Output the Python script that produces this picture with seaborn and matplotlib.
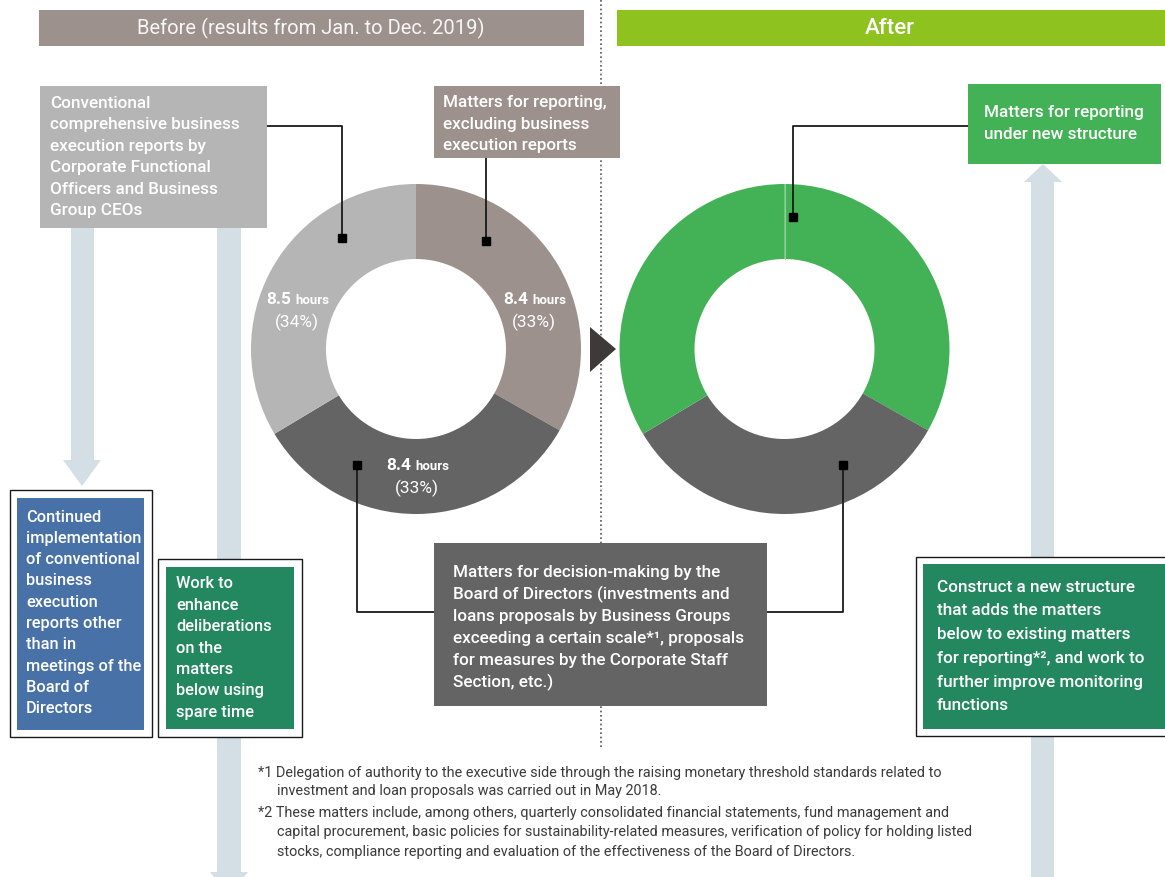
import matplotlib
matplotlib.use("Agg")
import matplotlib.pyplot as plt
import seaborn as sns
from matplotlib.patches import Rectangle, Polygon

# ---------------------------------------------------------------- data
segments = [
    "Matters for reporting, excluding business execution reports",
    "Matters for decision-making by the Board of Directors",
    "Conventional comprehensive business execution reports",
]
hours_before = [8.4, 8.4, 8.5]
# same meeting time after the change; reporting slots merged into new structure
hours_after = [8.4, 8.4, 8.5]

before_title = "Before (results from Jan. to Dec. 2019)"
after_title = "After"

# ---------------------------------------------------------------- style
sns.set_theme(style="white")
plt.rcParams["font.family"] = ["Roboto", "DejaVu Sans"]

TAUPE = "#9c918c"
LIGHT = "#b4b5b4"
DARK = "#646464"
GREEN = "#43b155"
LIME = "#8dc21f"
BLUE = "#4872a7"
DEEP_GREEN = "#238860"
ARROW = "#d3dee5"
INK = "#1a1a1a"

colors_before = sns.color_palette([TAUPE, DARK, LIGHT])
colors_after = sns.color_palette([GREEN, DARK, GREEN])

W, H = 1165, 877
fig = plt.figure(figsize=(W / 100, H / 100), dpi=100)
ax = fig.add_axes([0, 0, 1, 1])

BODY = 12.3
NARROW = 11.8


def Y(y):
    """Convert a top-down pixel row into the axes' upward y coordinate."""
    return H - y


def box(x0, y0, x1, y1, color, z=2, edge="none", lw=0):
    ax.add_patch(Rectangle((x0, Y(y1)), x1 - x0, y1 - y0, facecolor=color,
                           edgecolor=edge, linewidth=lw, zorder=z))


def text_block(x, y0, lines, dy, size=BODY, weight="medium", color="white", z=6):
    for i, s in enumerate(lines):
        ax.text(x, Y(y0 + i * dy), s, ha="left", va="center", fontsize=size,
                fontweight=weight, color=color, zorder=z)


def leader(xs, ys, end):
    ax.plot(xs, [Y(v) for v in ys], color=INK, lw=1.3, zorder=7,
            solid_capstyle="butt")
    ax.plot(end[0], Y(end[1]), marker="s", ms=5.2, color="black", zorder=8)


def vertical_arrow(x0, x1, y_tail, y_shoulder, hx0, hx1, y_tip):
    pts = [(x0, y_tail), (x1, y_tail), (x1, y_shoulder), (hx1, y_shoulder),
           ((hx0 + hx1) / 2, y_tip), (hx0, y_shoulder), (x0, y_shoulder)]
    ax.add_patch(Polygon([(px, Y(py)) for px, py in pts], closed=True,
                         facecolor=ARROW, edgecolor="none", zorder=1))


# ---------------------------------------------------------------- donuts
R_OUT, RING = 165, 75
c_before = (416, Y(349))
c_after = (784.5, Y(349))

ax.pie(hours_before, colors=colors_before, radius=R_OUT, center=c_before,
       startangle=90, counterclock=False,
       wedgeprops=dict(width=RING, edgecolor="none", zorder=3))
ax.pie(hours_after, colors=colors_after, radius=R_OUT, center=c_after,
       startangle=90, counterclock=False,
       wedgeprops=dict(width=RING, edgecolor="none", zorder=3))
# faint seam where the two green slots meet
ax.plot([c_after[0], c_after[0]], [c_after[1] + R_OUT - RING, c_after[1] + R_OUT],
        color="#8fd09a", lw=0.8, zorder=4)

total = sum(hours_before)
label_pos = [(534, 298), (417, 464), (297, 298)]
for h, (lx, ly) in zip(hours_before, label_pos):
    ax.text(lx - 6, Y(ly + 6), f"{h:.1f}", ha="right", va="baseline",
            fontsize=12.5, fontweight="bold", color="white", zorder=6)
    ax.text(lx - 2, Y(ly + 6), "hours", ha="left", va="baseline",
            fontsize=9.5, fontweight="bold", color="white", zorder=6)
    ax.text(lx, Y(ly + 24), f"({round(100 * h / total)}%)", ha="center",
            va="center", fontsize=12.5, color="white", zorder=6)

# ---------------------------------------------------------------- layout
ax.plot([601, 601], [Y(0), Y(747)], color="#555555", lw=1.2,
        linestyle=(0, (1, 1.6)), zorder=0.5)

# headers
box(39, 10, 584, 46, TAUPE)
ax.text(311, Y(28), before_title, ha="center", va="center", fontsize=14.5,
        fontweight="normal", color="#f6f6f6", zorder=6)
box(617, 10, 1165, 46, LIME)
ax.text(890, Y(28), after_title, ha="center", va="center", fontsize=16,
        fontweight="medium", color="white", zorder=6)

# arrows (behind boxes)
vertical_arrow(71, 94, 228, 460, 63, 101, 486)
vertical_arrow(217, 241, 228, 872, 210, 248, 896)
vertical_arrow(1031, 1054, 880, 182, 1024, 1062, 164)

# top callouts
box(40, 86, 267, 228, LIGHT)
text_block(50, 103, ["Conventional", "comprehensive business",
                     "execution reports by", "Corporate Functional",
                     "Officers and Business", "Group CEOs"], 21.6)
box(434, 86, 620, 158, TAUPE)
text_block(443, 103, ["Matters for reporting,", "excluding business",
                      "execution reports"], 21.3)
box(968, 84, 1161, 164, GREEN)
text_block(984, 113, ["Matters for reporting", "under new structure"], 21.5)

# leaders
leader([267, 342, 342], [126, 126, 238], (342, 238))
leader([486, 486], [158, 241], (486, 241))
leader([357, 357, 434], [465, 612, 612], (357, 465))
leader([767, 843, 843], [612, 612, 465], (843, 465))
leader([968, 793, 793], [126, 126, 217], (793, 217))

# transition marker
ax.add_patch(Polygon([(590, Y(327)), (590, Y(372)), (616, Y(349))],
                     closed=True, facecolor="#3e3a39", edgecolor="none",
                     zorder=5))

# decision-making box
box(434, 543, 767, 706, DARK)
text_block(453, 572, ["Matters for decision-making by the",
                      "Board of Directors (investments and",
                      "loans proposals by Business Groups",
                      "exceeding a certain scale*¹, proposals",
                      "for measures by the Corporate Staff",
                      "Section, etc.)"], 22)

# framed outcome boxes
box(10, 490, 152, 737, "white", z=2, edge=INK, lw=1.0)
box(17, 498, 144, 730, BLUE, z=3)
text_block(26, 517, ["Continued", "implementation", "of conventional",
                     "business", "execution", "reports other", "than in",
                     "meetings of the", "Board of", "Directors"], 21.3,
           size=NARROW)

box(158, 559, 302, 737, "white", z=2, edge=INK, lw=1.0)
box(166, 567, 294, 729, DEEP_GREEN, z=3)
text_block(176, 584, ["Work to", "enhance", "deliberations", "on the",
                      "matters", "below using", "spare time"], 21.4,
           size=NARROW)

box(916, 557, 1175, 736, "white", z=2, edge=INK, lw=1.0)
box(923, 564, 1175, 729, DEEP_GREEN, z=3)
text_block(937, 587, ["Construct a new structure", "that adds the matters",
                      "below to existing matters",
                      "for reporting*², and work to",
                      "further improve monitoring", "functions"], 23.8)

# footnotes
NOTE = "#3a3a3a"
notes = [
    (258, 773, "*1 Delegation of authority to the executive side through the raising monetary threshold standards related to"),
    (277, 791, "investment and loan proposals was carried out in May 2018."),
    (258, 813, "*2 These matters include, among others, quarterly consolidated financial statements, fund management and"),
    (277, 832, "capital procurement, basic policies for sustainability-related measures, verification of policy for holding listed"),
    (277, 852, "stocks, compliance reporting and evaluation of the effectiveness of the Board of Directors."),
]
for nx, ny, s in notes:
    ax.text(nx, Y(ny), s, ha="left", va="center", fontsize=10.4, color=NOTE,
            zorder=6)

ax.set_xlim(0, W)
ax.set_ylim(0, H)
ax.set_aspect("auto")
ax.set_axis_off()

fig.savefig("out.png", dpi=100, facecolor="white")
